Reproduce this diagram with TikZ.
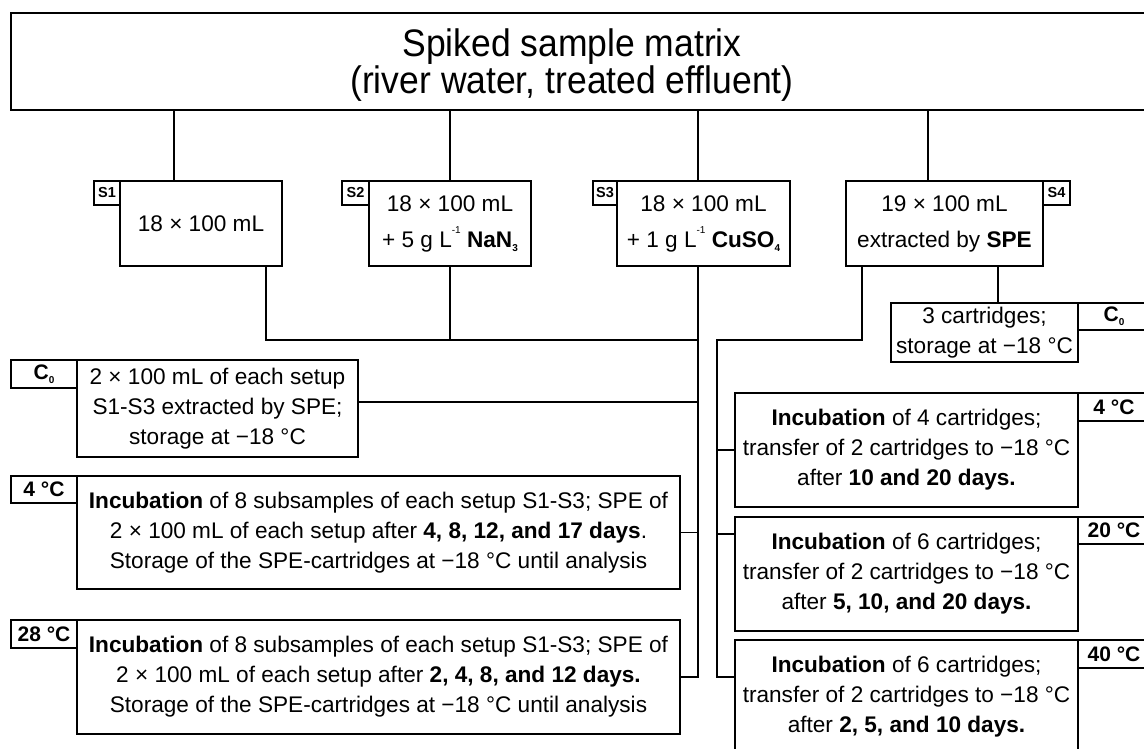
\documentclass[tikz,border=0pt]{standalone}
\usepackage{fontspec}
\setmainfont{Liberation Sans}
\newcommand{\mysup}[1]{\raisebox{0.62em}{\fontsize{10}{10}\selectfont #1}}
\newcommand{\mysub}[1]{\raisebox{-0.18em}{\fontsize{10}{10}\selectfont\bfseries #1}}
\tikzset{
  frame/.style={draw, line width=1.7pt, inner sep=0pt},
  box/.style={frame, align=center, font=\fontsize{22.6}{30}\selectfont},
  sbox/.style={frame, align=center, font=\fontsize{22.6}{36}\selectfont},
  tagbox/.style={frame, font=\bfseries\fontsize{21}{24}\selectfont},
  stag/.style={frame, font=\bfseries\fontsize{14.5}{16}\selectfont},
  ctag/.style={frame, font=\bfseries\fontsize{21}{22}\selectfont},
  titletext/.style={align=center, inner sep=0pt, font=\fontsize{35.5}{35}\selectfont},
  conn/.style={line width=1.7pt},
}
\begin{document}
\begin{tikzpicture}[x=1pt,y=-1pt]
\useasboundingbox (0,0) rectangle (1144,748);
\clip (0,0) rectangle (1144,748);
\fill[white] (0,0) rectangle (1144,748);

% top box
\node[frame, minimum width=1139, minimum height=97] (top) at (580.5,61.5) {};
\node[titletext, yscale=1.08, transform shape] (title) at (572,65) {Spiked sample matrix\\(river water, treated effluent)};

% setups
\node[sbox, minimum width=162, minimum height=85] (S1) at (201,223.5) {18 × 100 mL};
\node[stag, minimum width=26, minimum height=24] (S1t) at (107,193) {S1};
\node[sbox, minimum width=162, minimum height=85] (S2) at (450,223.5) {18 × 100 mL\\+ 5 g L\mysup{-1} \textbf{NaN}\mysub{3}};
\node[stag, minimum width=27, minimum height=24] (S2t) at (355.5,193) {S2};
\node[sbox, minimum width=173, minimum height=85] (S3) at (703.5,223.5) {18 × 100 mL\\+ 1 g L\mysup{-1} \textbf{CuSO}\mysub{4}};
\node[stag, minimum width=24, minimum height=24] (S3t) at (605,193) {S3};
\node[sbox, minimum width=197, minimum height=85] (S4) at (944.5,223.5) {19 × 100 mL\\extracted by \textbf{SPE}};
\node[stag, minimum width=27, minimum height=24] (S4t) at (1056.5,193) {S4};

% left column
\node[box, minimum width=281, minimum height=97] (C0L) at (217.5,408.5) {2 × 100 mL of each setup\\S1-S3 extracted by SPE;\\storage at −18 °C};
\node[ctag, minimum width=66, minimum height=28] (C0Lt) at (44,374) {C\mysub{0}};
\node[box, minimum width=603, minimum height=113] (T4L) at (378.5,532.5) {\textbf{Incubation} of 8 subsamples of each setup S1-S3; SPE of\\2 × 100 mL of each setup after \textbf{4, 8, 12, and 17 days}.\\Storage of the SPE-cartridges at −18 °C until analysis};
\node[tagbox, minimum width=66, minimum height=27] (T4Lt) at (44,489.5) {4 °C};
\node[box, minimum width=603, minimum height=114] (T28L) at (378.5,677) {\textbf{Incubation} of 8 subsamples of each setup S1-S3; SPE of\\2 × 100 mL of each setup after \textbf{2, 4, 8, and 12 days.}\\Storage of the SPE-cartridges at −18 °C until analysis};
\node[tagbox, minimum width=66, minimum height=28] (T28Lt) at (44,634) {28 °C};

% right column
\node[box, minimum width=187, minimum height=59] (C0R) at (984.5,332.5) {3 cartridges;\\storage at −18 °C};
\node[ctag, minimum width=72, minimum height=27] (C0Rt) at (1114,316.5) {C\mysub{0}};
\node[box, minimum width=343, minimum height=114] (T4R) at (906.5,450) {\textbf{Incubation} of 4 cartridges;\\transfer of 2 cartridges to −18 °C\\after \textbf{10 and 20 days.}};
\node[tagbox, minimum width=72, minimum height=28] (T4Rt) at (1114,407) {4 °C};
\node[box, minimum width=343, minimum height=114] (T20R) at (906.5,574) {\textbf{Incubation} of 6 cartridges;\\transfer of 2 cartridges to −18 °C\\after \textbf{5, 10, and 20 days.}};
\node[tagbox, minimum width=72, minimum height=27] (T20Rt) at (1114,530.5) {20 °C};
\node[box, minimum width=343, minimum height=114] (T40R) at (906.5,697) {\textbf{Incubation} of 6 cartridges;\\transfer of 2 cartridges to −18 °C\\after \textbf{2, 5, and 10 days.}};
\node[tagbox, minimum width=72, minimum height=28] (T40Rt) at (1114,654) {40 °C};

% connector guide coordinates
\coordinate (xa) at (174,0);
\coordinate (xb) at (928,0);
\coordinate (b1) at (266,0);
\coordinate (b3) at (698,0);
\coordinate (b4) at (862,0);
\coordinate (b5) at (717,0);
\coordinate (b6) at (998,0);
\coordinate (jy) at (0,340);
\coordinate (yc) at (0,402);
\coordinate (y20) at (0,534);
\coordinate (y40) at (0,677);

\draw[conn] (top.south -| xa) -- (S1.north -| xa);
\draw[conn] (top.south -| S2.north) -- (S2.north);
\draw[conn] (top.south -| b3) -- (S3.north -| b3);
\draw[conn] (top.south -| xb) -- (S4.north -| xb);
\draw[conn] (S1.south -| b1) -- (b1 |- jy) -- (b3 |- jy);
\draw[conn] (S2.south) -- (S2.south |- jy);
\draw[conn] (S3.south -| b3) -- (b3 |- T28L.east) -- (T28L.east);
\draw[conn] (C0L.east |- yc) -- (b3 |- yc);
\draw[conn] (T4L.east) -- (b3 |- T4L.east);
\draw[conn] (S4.south -| b4) -- (b4 |- jy) -- (b5 |- jy) -- (b5 |- y40) -- (T40R.west |- y40);
\draw[conn] (b5 |- T4R.west) -- (T4R.west);
\draw[conn] (b5 |- y20) -- (T20R.west |- y20);
\draw[conn] (S4.south -| b6) -- (C0R.north -| b6);
\end{tikzpicture}
\end{document}
